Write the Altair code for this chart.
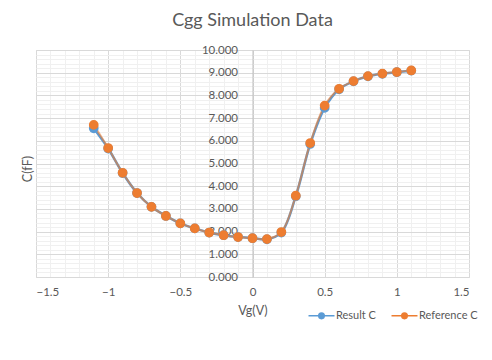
import altair as alt
import pandas as pd

# ---- data ----
vg = [-1.1, -1.0, -0.9, -0.8, -0.7, -0.6, -0.5, -0.4, -0.3, -0.2, -0.1, 0.0,
      0.1, 0.2, 0.3, 0.4, 0.5, 0.6, 0.7, 0.8, 0.9, 1.0, 1.1]
result_c = [6.55, 5.66, 4.58, 3.70, 3.09, 2.69, 2.36, 2.14, 1.96, 1.84, 1.76, 1.71,
            1.66, 1.96, 3.56, 5.86, 7.45, 8.27, 8.62, 8.84, 8.95, 9.02, 9.09]
reference_c = [6.70, 5.68, 4.59, 3.70, 3.09, 2.69, 2.36, 2.14, 1.96, 1.84, 1.76, 1.71,
               1.67, 1.98, 3.58, 5.90, 7.55, 8.29, 8.63, 8.85, 8.96, 9.03, 9.10]
series_names = ["Result C", "Reference C"]
series_colors = ["#5B9BD5", "#ED7D31"]

x_ticks = [round(-1.5 + 0.1 * i, 1) for i in range(31)]
y_ticks = [round(0.2 * i, 1) for i in range(51)]

rows = []
for name, vals in zip(series_names, [result_c, reference_c]):
    for x, v in zip(vg, vals):
        rows.append({"Vg": x, "C": v, "series": name})
df = pd.DataFrame(rows)

FONT = "Lato"
TXT = "#595959"
W, H = 433, 227

xscale = alt.Scale(domain=[-1.5, 1.5], nice=False, zero=False)
yscale = alt.Scale(domain=[0, 10], nice=False)

x_axis = alt.Axis(
    values=x_ticks, tickCount=200,
    labelExpr="abs(round(datum.value*10)) % 5 == 0 ? format(datum.value, '') : ''",
    gridColor={"condition": {"test": "abs(round(datum.value*10)) % 5 == 0", "value": "#D9D9D9"},
               "value": "#F0F0F0"},
    ticks=False, domain=False, labelOverlap=False, labelPadding=9,
    labelFont=FONT, labelFontSize=11.5, labelColor=TXT,
    title="Vg(V)", titleFont=FONT, titleFontSize=12.5, titleFontWeight="normal",
    titleColor=TXT, titlePadding=7,
)
y_axis = alt.Axis(
    values=y_ticks, tickCount=200,
    labelExpr="abs(round(datum.value*5)) % 5 == 0 ? format(datum.value, '.3f') : ''",
    gridColor={"condition": {"test": "abs(round(datum.value*5)) % 5 == 0", "value": "#D9D9D9"},
               "value": "#F0F0F0"},
    ticks=False, domain=True, domainColor="#BFBFBF", domainWidth=1,
    offset=-W / 2, labelOverlap=False, labelPadding=15,
    labelFont=FONT, labelFontSize=11.5, labelColor=TXT,
    title="C(fF)", titleFont=FONT, titleFontSize=12.5, titleFontWeight="normal",
    titleColor=TXT, titleX=-W / 2 - 2, titleY=H / 2 + 5, titleAngle=-90,
)

base = alt.Chart(df)

res_line = base.transform_filter(alt.datum.series == "Result C").mark_line(
    interpolate="catmull-rom", color=series_colors[0], strokeWidth=2.5
).encode(x=alt.X("Vg:Q", scale=xscale, axis=x_axis), y=alt.Y("C:Q", scale=yscale, axis=y_axis))

ref_line = base.transform_filter(alt.datum.series == "Reference C").mark_line(
    interpolate="catmull-rom", color=series_colors[1], strokeWidth=2, opacity=0.6
).encode(x="Vg:Q", y="C:Q")

sym = "M-1.5,0L1.5,0M0.32,0A0.32,0.32,0,1,1,-0.32,0A0.32,0.32,0,1,1,0.32,0"
color_scale = alt.Scale(domain=series_names, range=series_colors)
legend = alt.Legend(
    title=None, orient="none", direction="horizontal", legendX=276, legendY=256,
    symbolType=sym, symbolSize=300, symbolStrokeWidth=1.5,
    labelFont=FONT, labelFontSize=11, labelColor=TXT, labelOffset=5, columnPadding=12,
)
points = base.mark_point(filled=True, size=60, opacity=1).encode(
    x="Vg:Q", y="C:Q",
    fill=alt.Fill("series:N", scale=color_scale, legend=legend, sort=series_names),
    stroke=alt.Stroke("series:N", scale=color_scale, legend=legend, sort=series_names),
)

chart = alt.layer(res_line, ref_line, points).properties(
    width=W, height=H,
    title=alt.TitleParams("Cgg Simulation Data", font=FONT, fontSize=18, fontWeight="normal",
                          color=TXT, anchor="middle", offset=14),
    autosize=alt.AutoSizeParams(type="none"),
    padding={"left": 28, "top": 42, "right": 15, "bottom": 75},
).configure_view(stroke="#D9D9D9", strokeWidth=1).configure(background="white")

chart.save("out.html", embed_options={"renderer": "svg", "actions": False})
